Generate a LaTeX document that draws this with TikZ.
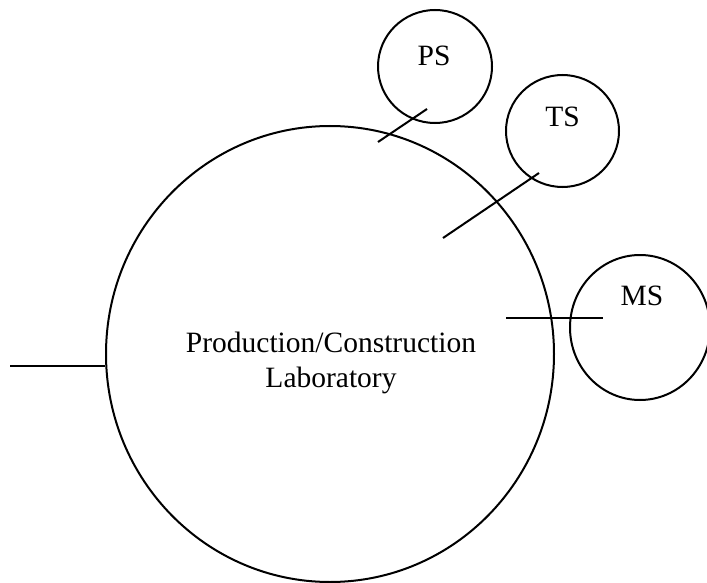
\documentclass[tikz,border=0pt]{standalone}
\usepackage{fontspec}
\setmainfont{Liberation Serif}
\usetikzlibrary{shapes.geometric}
\begin{document}
\begin{tikzpicture}[x=1pt,y=-1pt,
  ring/.style={draw, ellipse, line width=2pt, inner sep=0pt},
  label/.style={inner sep=0pt, anchor=base, font=\fontsize{29.5}{35}\selectfont},
  link/.style={line width=2pt}]
  \useasboundingbox (0,0) rectangle (707,583);

  % main laboratory and its three satellites
  \node[ring, minimum width=448pt, minimum height=456pt] (lab) at (330,354) {};
  \node[ring, minimum width=114pt, minimum height=113pt] (ps) at (435,66.5) {};
  \node[ring, minimum width=113pt, minimum height=112pt] (ts) at (562.5,131) {};
  \node[ring, minimum width=140pt, minimum height=145pt] (ms) at (640,327.5) {};

  % labels (a two-line node sits on the baseline of its last line)
  \node[label, align=center] (labtext) at (331,387) {Production/Construction\\Laboratory};
  \node[label] (pstext) at (434,66) {PS};
  \node[label] (tstext) at (562.5,127) {TS};
  \node[label] (mstext) at (642,305) {MS};

  % stroke end points
  \coordinate (psa) at (378,142);
  \coordinate (psb) at (427,109);
  \coordinate (tsa) at (443,238);
  \coordinate (tsb) at (539,173);
  \coordinate (msa) at (506,318);
  \coordinate (msb) at (603,318);
  \coordinate (ina) at (10,366);

  \draw[link] (psa) -- (psb);
  \draw[link] (tsa) -- (tsb);
  \draw[link] (msa) -- (msb);
  \draw[link] (ina) -- (lab.west |- ina);
\end{tikzpicture}
\end{document}
